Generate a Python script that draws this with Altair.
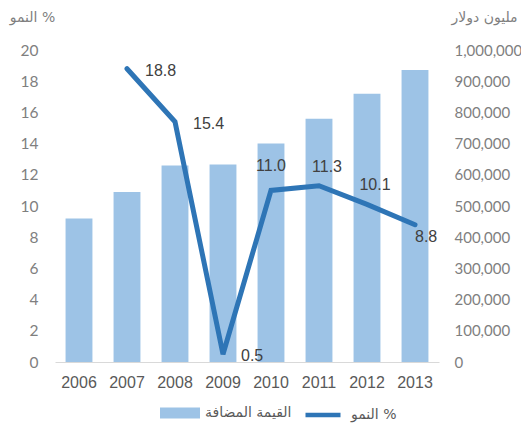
import altair as alt
import pandas as pd

years = ["2006", "2007", "2008", "2009", "2010", "2011", "2012", "2013"]
value_added = [460000, 545000, 630000, 633000, 700000, 780000, 860000, 936000]
growth = [None, 18.8, 15.4, 0.5, 11.0, 11.3, 10.1, 8.8]

bar_name = "القيمة المضافة"
line_name = "النمو %"
left_title = "النمو %"
right_title = "مليون دولار"

left_ticks = [0, 2, 4, 6, 8, 10, 12, 14, 16, 18, 20]
right_ticks = [0, 100000, 200000, 300000, 400000, 500000, 600000, 700000, 800000, 900000, 1000000]

df = pd.DataFrame({
    "year": years,
    "value": value_added,
    "growth": growth,
    "bar_series": [bar_name] * len(years),
    "line_series": [line_name] * len(years),
})

AX_FONT = "Lato"
ARABIC_FONT = "DejaVu Sans"
LBL_FONT = "Liberation Sans"
GRAY = "#7F7F7F"

x = alt.X("year:N", sort=years,
          scale=alt.Scale(paddingInner=0.44, paddingOuter=0.22),
          axis=alt.Axis(title=None, labelAngle=0, ticks=False, domain=True,
                        domainColor="#D9D9D9", domainWidth=1.2,
                        labelFont=LBL_FONT, labelFontSize=16, labelColor="#595959",
                        labelPadding=12, grid=False))

base = alt.Chart(df)

bars = base.mark_bar().encode(
    x=x,
    y=alt.Y("value:Q",
            scale=alt.Scale(domain=[0, 1000000], nice=False),
            axis=alt.Axis(orient="right", values=right_ticks, format=",.0f",
                          domain=False, ticks=False, grid=False,
                          labelFont=AX_FONT, labelFontSize=15, labelColor=GRAY,
                          labelPadding=15,
                          title=right_title, titleAngle=0, titleFont=ARABIC_FONT,
                          titleFontSize=14, titleFontWeight="normal", titleColor=GRAY,
                          titleAlign="center", titleBaseline="middle",
                          titleX=45, titleY=-33)),
    color=alt.Color("bar_series:N",
                    scale=alt.Scale(domain=[bar_name], range=["#9DC3E6"]),
                    legend=alt.Legend(title=None, orient="none", legendX=105, legendY=343,
                                      symbolType="M-1,-0.275L1,-0.275L1,0.275L-1,0.275Z",
                                      symbolSize=1600, symbolStrokeWidth=0,
                                      labelFont=ARABIC_FONT, labelFontSize=14,
                                      labelColor="#595959", labelOffset=5, padding=0)),
)

yline = alt.Y("growth:Q",
              scale=alt.Scale(domain=[0, 20], nice=False),
              axis=alt.Axis(orient="left", values=left_ticks,
                            domain=False, ticks=False, grid=False,
                            labelFont=AX_FONT, labelFontSize=15.5, labelColor=GRAY,
                            labelPadding=17,
                            title=left_title, titleAngle=0, titleFont=ARABIC_FONT,
                            titleFontSize=14, titleFontWeight="normal", titleColor=GRAY,
                            titleAlign="center", titleBaseline="middle",
                            titleX=-23, titleY=-33))

line = base.mark_line(strokeWidth=5, strokeCap="round", strokeJoin="miter").encode(
    x=x,
    y=yline,
    color=alt.Color("line_series:N",
                    scale=alt.Scale(domain=[line_name], range=["#2E75B6"]),
                    legend=alt.Legend(title=None, orient="none", legendX=248, legendY=345,
                                      symbolType="stroke", symbolSize=1225,
                                      symbolStrokeWidth=4.5,
                                      labelFont=ARABIC_FONT, labelFontSize=14,
                                      labelColor="#595959", labelOffset=8, padding=0)),
)


def labels(sel, dx, dy, align):
    return base.transform_filter(
        alt.FieldOneOfPredicate(field="year", oneOf=sel)
    ).mark_text(font=LBL_FONT, fontSize=16, color="#404040", dx=dx, dy=dy,
                align=align, baseline="middle").encode(
        x=x, y=yline, text=alt.Text("growth:Q", format=".1f"))


lab_right = labels(["2007", "2008", "2009"], 18, 2, "left")
lab_2010 = labels(["2010"], 0, -24, "center")
lab_above = labels(["2011", "2012"], 8, -19, "center")
lab_2013 = labels(["2013"], 0, 12, "left")

line_layer = alt.layer(line, lab_right, lab_2010, lab_above, lab_2013)

chart = alt.layer(bars, line_layer).resolve_scale(
    y="independent", color="independent"
).properties(
    width=384, height=312,
    autosize=alt.AutoSizeParams(type="none"),
    padding={"left": 47, "top": 42, "right": 82, "bottom": 62},
).configure_view(stroke=None)

chart.save("out.html", embed_options={"renderer": "svg", "actions": False})
